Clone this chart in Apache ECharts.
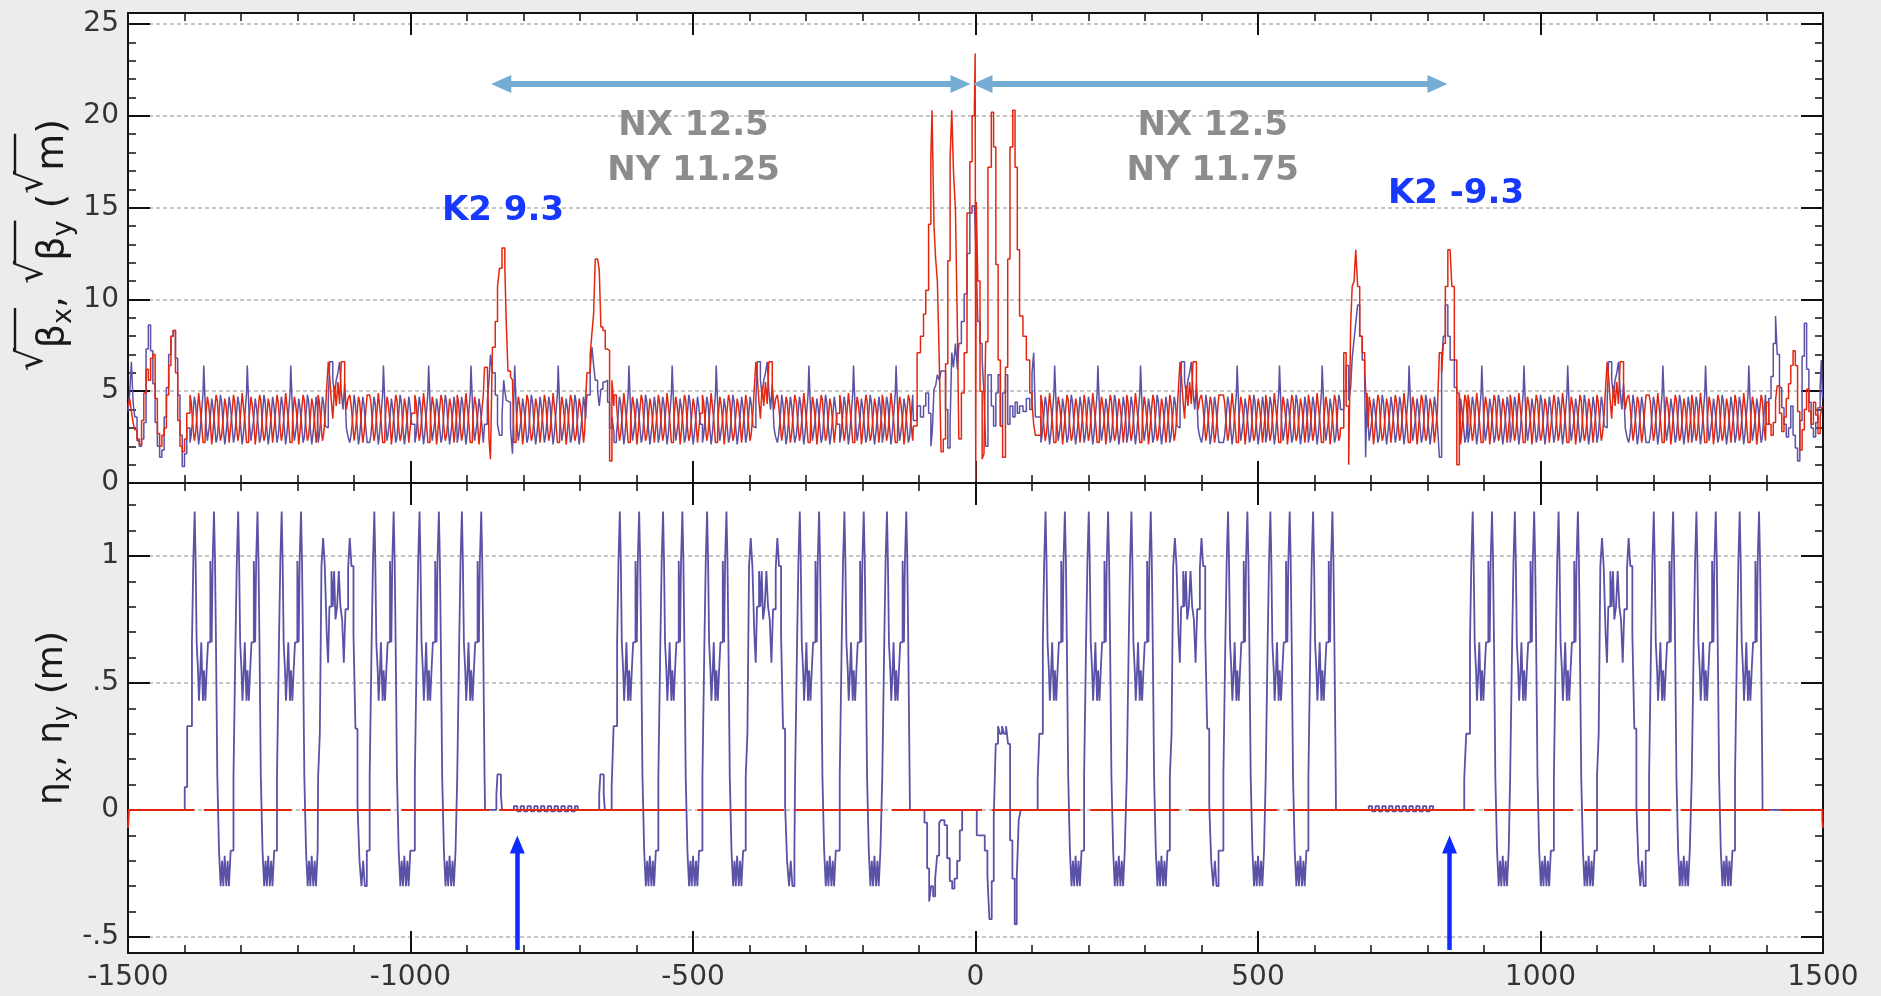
<!DOCTYPE html>
<html>
<head>
<meta charset="utf-8">
<script src="https://cdn.jsdelivr.net/npm/echarts/dist/echarts.min.js"></script>
<style>
  html, body { margin: 0; padding: 0; background: #ececec; }
  #chart { width: 1881px; height: 996px; }
</style>
</head>
<body>
<div id="chart"></div>
<script>
// ---------------------------------------------------------------------------
// Lattice functions along the ring, s in metres (-1500 … 1500)
// ---------------------------------------------------------------------------

// Dispersion η_x over one regular arc period (offset from period start, m)
const etaCellNormalOffsets = [0, 3.5, 5.9, 8.3, 10, 11.8, 14.2, 15.9, 18.3, 20, 21.3, 23, 24.8, 27.2, 29.5, 31.9,
  36, 38.4, 40.1, 42.5, 44.3, 46, 48.4, 51.4, 54.3, 56.7, 59, 61.4, 64.3, 66.7, 69, 72];
const etaCellNormalValues = [0.13, 0.66, 0.98, 1.175, 0.98, 0.66, 0.55, 0.43, 0.55, 0.66, 0.55, 0.43, 0.55, 0.43, 0.55, 0.66,
  0.98, 0.66, 0.98, 1.175, 0.98, 0.66, 0.13, -0.16, -0.30, -0.20, -0.30, -0.18, -0.30, -0.20, -0.30, -0.16];

// Dispersion η_x over the longer mid-arc period
const etaCellMidOffsets = [0, 3, 5.9, 8.9, 11.8, 15.3, 17.7, 20, 23.6, 26, 28.3, 30.7, 33.6, 36.6, 39.5, 42.5,
  45.5, 48.4, 53.1, 56, 59, 62.6, 66.1, 69.7, 73.2, 76.7, 79.7, 82.6, 86.2];
const etaCellMidValues = [0.13, 0.30, 0.96, 1.07, 0.96, 0.69, 0.58, 0.80, 0.94, 0.80, 0.94, 0.75, 0.80, 0.94, 0.80, 0.75,
  0.58, 0.79, 0.95, 1.07, 0.96, 0.69, 0.32, 0.02, -0.20, -0.30, -0.20, -0.30, -0.16];

// √β over one regular arc period (five FODO cells, element-edge steps)
const betaCellNormalOffsets = [0, 2.2, 5, 7.7, 9.9, 12.7, 15.4, 17.6, 20.4, 23.1, 24.4, 26.8, 28.1,
  30.8, 33, 35.8, 38.5, 40.7, 43.5, 46.2, 48.4, 51.2, 53.9, 56.1, 58.9, 61.6, 63.8, 66.6, 69.3, 71.5, 74.3];
const betaXCellNormal = [2.2, 2.6, 3.6, 4.7, 4.3, 3.1, 2.1, 2.7, 3.8, 4.9, 6.4, 4.4, 3.3,
  2.3, 2.8, 3.5, 4.6, 4.1, 3.2, 2.2, 2.5, 3.7, 4.8, 4.4, 3.0, 2.1, 2.7, 3.6, 4.7, 4.2, 3.2];
const betaYCellNormal = [4.8, 4.4, 3.2, 2.3, 2.7, 3.8, 4.9, 4.2, 3.3, 2.2, 2.2, 2.6, 3.7,
  4.7, 4.3, 3.4, 2.1, 2.8, 3.9, 4.8, 4.5, 3.1, 2.3, 2.6, 3.6, 4.6, 4.2, 3.3, 2.2, 2.9, 3.8];

// √β over the mid-arc period (the raised hump)
const betaCellMidOffsets = [0, 2.2, 5, 7.7, 9.9, 12.7, 15.4, 18, 20.5, 23, 26, 29, 32, 35, 38, 41, 44, 47, 50, 53,
  56, 58.2, 61, 63.7, 65.9, 68.7, 71.4, 73.6, 76.4, 79.1, 81.3, 84.1, 86.8];
const betaXCellMid = [2.2, 2.6, 3.6, 4.7, 4.3, 3.1, 3.0, 4.5, 6.6, 6.6, 5.6, 4.8, 5.6, 6.0, 6.6, 5.0, 4.0, 5.4, 3.0, 2.5,
  2.2, 2.6, 3.5, 4.8, 4.3, 3.2, 2.1, 2.6, 3.7, 4.7, 4.2, 3.1, 2.2];
const betaYCellMid = [4.8, 4.4, 3.2, 2.3, 2.7, 3.8, 5.3, 6.6, 5.8, 4.6, 3.5, 5.3, 4.2, 5.5, 4.3, 6.6, 6.6, 5.2, 4.0, 4.6,
  4.8, 4.3, 3.3, 2.3, 2.8, 3.7, 4.7, 4.4, 3.2, 2.2, 2.7, 3.8, 4.8];

// Start of each arc period: [s, 'N' regular | 'M' mid-arc]
const arcCellStarts = [
  [-1390.3, 'N'], [-1313.3, 'N'], [-1236.3, 'N'], [-1163.5, 'M'], [-1072.3, 'N'], [-992.3, 'N'], [-917.3, 'N'],
  [-637.8, 'N'], [-561.3, 'N'], [-483.3, 'N'], [-406.7, 'M'], [-319.3, 'N'], [-240.3, 'N'], [-165, 'N'],
  [115.7, 'N'], [192.2, 'N'], [267.7, 'N'], [344, 'M'], [438.7, 'N'], [513.6, 'N'], [589.2, 'N'],
  [871.7, 'N'], [946.3, 'N'], [1023.7, 'N'], [1100, 'M'], [1192.2, 'N'], [1267.7, 'N'], [1344.3, 'N']
];
// Periods of the two long straights (β only)
const straightCellStarts = [[-840, 'N'], [-763, 'N'], [-686, 'N'], [666, 'N'], [743, 'N'], [820, 'N']];

// η_x where the lattice is not periodic: [s, η]
const etaLeftEnd = [[-1500, 0], [-1399.6, 0.09], [-1395.3, 0.33]];
const etaStraightLeft = [[-868, 0], [-848, 0.06], [-846, 0.14], [-840, 0.06], [-838, 0], [-817, 0.015], [-811, -0.005],
  [-805, 0.015], [-799, -0.005], [-793, 0.015], [-787, -0.005], [-781, 0.015], [-775, -0.005], [-769, 0.015],
  [-763, -0.005], [-757, 0.015], [-751, -0.005], [-745, 0.015], [-739, -0.005], [-733, 0.015], [-727, -0.005],
  [-721, 0.015], [-715, -0.005], [-709, 0.015], [-704, 0],
  [-666, 0.06], [-664, 0.14], [-658, 0.06], [-656, 0], [-644, 0.09], [-640.5, 0.33]];
const etaInteraction = [[-116, 0], [-90.3, -0.05], [-85.6, -0.23], [-82, -0.36], [-78.6, -0.30], [-75, -0.34],
  [-71.4, -0.27], [-67.9, -0.18], [-64.3, -0.05], [-60.8, -0.04], [-54.9, -0.06], [-50.2, -0.19], [-45.5, -0.28],
  [-41.3, -0.31], [-37.2, -0.27], [-32.5, -0.20], [-27.8, -0.08], [-23.6, 0], [2.2, -0.10], [16.4, -0.16],
  [21.1, -0.26], [24.6, -0.43], [28.7, -0.28], [32.3, -0.03], [35.8, 0.26], [39.9, 0.33], [43.4, 0.30], [47, 0.33],
  [50.5, 0.30], [54.1, 0.33], [57.6, 0.26], [61.2, -0.12], [65.3, -0.27], [69.4, -0.45], [73, -0.27], [76.5, -0.04],
  [80, 0], [110, 0.12], [113, 0.3]];
const etaStraightRight = [[638, 0], [696, 0.015], [702, -0.005], [708, 0.015], [714, -0.005], [720, 0.015],
  [726, -0.005], [732, 0.015], [738, -0.005], [744, 0.015], [750, -0.005], [756, 0.015], [762, -0.005], [768, 0.015],
  [774, -0.005], [780, 0.015], [786, -0.005], [792, 0.015], [798, -0.005], [804, 0.015], [810, 0],
  [865, 0.12], [868.5, 0.3]];
const etaRightEnd = [[1393, 0], [1500, 0]];

// η_y: zero where drawn, with short breaks; small step at both ends
const etaYLeftEnd = [[-1500, -0.07], [-1499.3, -0.04]];
const etaYRuns = [[-1498.6, -1399], [-1366, -1229], [-1192, -1054], [-1016, -878], [-843, -533], [-492, -358],
  [-320, -180], [-148, -6], [29, 168], [203, 343], [378, 517], [552, 865], [900, 1039], [1077, 1214],
  [1248, 1388], [1423, 1499]];
const etaYRightEnd = [[1499, -0.04], [1500, -0.07]];

// √β where the lattice is not periodic: [s, √βx, √βy]
const betaLeftEnd = [[-1500, 3.9, 4.2], [-1497, 4.9, 4.6], [-1494, 6.6, 3.9], [-1491, 4.4, 3.3], [-1488, 3.6, 2.9],
  [-1484, 2.3, 2.4], [-1480, 2.0, 2.1], [-1476, 2.4, 3.4], [-1472, 3.3, 4.9], [-1468, 7.3, 6.2], [-1464, 8.6, 5.6],
  [-1460, 7.2, 6.8], [-1456, 5.4, 7.0], [-1452, 3.3, 4.6], [-1448, 2.0, 2.7], [-1444, 1.4, 2.0], [-1440, 1.8, 2.6],
  [-1436, 3.6, 3.0], [-1432, 5.2, 4.8], [-1428, 7.0, 6.4], [-1424, 8.0, 8.0], [-1420, 8.3, 8.3], [-1416, 6.8, 6.0],
  [-1412, 4.8, 3.4], [-1408, 2.6, 2.0], [-1404, 0.9, 1.7], [-1400, 1.6, 2.4], [-1396, 3.0, 3.8]];
const betaK2LeftA = [[-869, 3.2, 6.3], [-864, 4.5, 6.4], [-861, 5.6, 2.4], [-858.5, 7.0, 1.3], [-855, 6.0, 7.4],
  [-850, 4.8, 8.8], [-846, 3.2, 10.7], [-842.5, 2.6, 11.7], [-838, 3.7, 12.8], [-835, 5.6, 12.8], [-833, 5.0, 11.7],
  [-830.5, 4.5, 8.7], [-827.5, 4.4, 6.1], [-823, 3.0, 5.8], [-819.5, 1.6, 5.6]];
const betaK2LeftB = [[-690, 3.5, 4.5], [-687.7, 4.8, 6.0], [-682, 6.2, 7.0], [-678.8, 7.4, 8.2], [-675.9, 6.4, 9.2],
  [-673, 5.6, 12.2], [-668.8, 5.0, 12.3], [-665.9, 4.2, 11.6], [-663, 5.1, 8.5], [-659.4, 5.5, 8.3],
  [-655.3, 5.6, 7.3], [-651.2, 4.4, 7.2], [-647.6, 3.0, 1.2], [-643.5, 3.6, 5.6], [-640, 2.8, 4.2]];
const betaInteraction = [[-110, 3.4, 3.1], [-103.3, 4.2, 7.1], [-97.4, 3.6, 8.0], [-92, 4.2, 9.2], [-88, 4.9, 10.5],
  [-83, 3.8, 14.1], [-79, 2.0, 17.7], [-77, 2.6, 20.3], [-75.5, 3.5, 17.6], [-73.5, 5.1, 14.0], [-70.5, 5.3, 12.2],
  [-67.5, 5.9, 11.0], [-64, 5.6, 6.5], [-61, 6.1, 1.7], [-57, 6.1, 2.4], [-53, 4.0, 6.5], [-49, 1.9, 12.1],
  [-45, 3.2, 17.6], [-42, 7.1, 20.3], [-39, 6.3, 17.0], [-35.5, 7.6, 14.9], [-32, 6.2, 8.3], [-29.5, 7.6, 2.4],
  [-25, 8.8, 4.9], [-20, 10.3, 7.1], [-15, 12.5, 14.7], [-10, 14.7, 17.5], [-6, 15.1, 20.0], [-2, 15.0, 20.3],
  [-0.6, 14.0, 23.4], [0.4, 13.0, 0.1], [1.4, 11.9, 15.3], [4, 8.8, 11.0], [8, 7.6, 5.0], [11.8, 6.7, 1.3],
  [15, 4.9, 1.6], [18, 2.0, 7.7], [22, 5.9, 17.2], [28, 4.2, 20.2], [32, 3.1, 18.3], [36, 4.9, 11.9], [40, 5.9, 6.7],
  [44, 3.1, 3.1], [48, 4.9, 1.4], [53, 5.9, 6.3], [57, 3.2, 12.2], [61, 4.2, 18.3], [66, 3.6, 20.3], [70, 4.4, 17.2],
  [74, 3.8, 12.7], [78, 4.2, 9.1], [84, 3.9, 8.0], [90, 4.6, 6.7], [96, 4.0, 4.9], [100, 6.0, 4.4], [103, 7.1, 3.2],
  [106, 3.6, 2.6]];
const betaK2RightA = [[646, 4.0, 3.0], [651.8, 5.0, 7.1], [656, 6.4, 4.2], [660.5, 4.5, 1.0], [664, 5.2, 8.6],
  [666.7, 6.8, 10.7], [670, 7.8, 11.0], [673, 8.7, 12.7], [676.4, 9.7, 10.7], [680, 8.0, 8.0], [684.4, 6.7, 7.1],
  [688.8, 5.6, 6.2], [690.5, 1.4, 5.1], [693, 4.9, 4.4], [695, 3.2, 3.0]];
const betaK2RightB = [[818, 3.0, 4.4], [821, 1.4, 7.1], [825, 6.5, 6.0], [828, 8.0, 7.6], [831.6, 9.7, 10.7],
  [836, 8.0, 12.7], [840, 6.7, 12.7], [843.1, 6.7, 10.7], [847.5, 5.2, 6.7], [851.9, 4.9, 1.0], [856.3, 4.0, 4.9],
  [858, 3.0, 3.6]];
const betaRightEnd = [[1400, 3.2, 4.4], [1404, 4.6, 3.2], [1408, 5.8, 2.6], [1412, 7.6, 3.3], [1416, 9.1, 4.5],
  [1419, 7.0, 5.3], [1423, 5.2, 3.8], [1427, 4.1, 2.8], [1431, 3.2, 3.6], [1435, 2.5, 4.6], [1439, 3.0, 5.4],
  [1443, 4.2, 6.4], [1447, 2.6, 7.2], [1451, 1.9, 6.4], [1455, 1.2, 3.9], [1459, 3.4, 1.8], [1463, 6.9, 2.9],
  [1467, 8.7, 4.0], [1471, 6.2, 5.1], [1475, 4.4, 3.9], [1479, 3.0, 3.2], [1483, 2.5, 4.4], [1487, 3.3, 3.7],
  [1491, 4.1, 2.7], [1495, 5.3, 3.6], [1497, 6.7, 4.0], [1499, 4.6, 4.2], [1500, 4.6, 4.2]];

// Annotations
const tuneLabels = [
  { s: -499, lines: ['NX 12.5', 'NY 11.25'] },
  { s: 420, lines: ['NX 12.5', 'NY 11.75'] }
];
const sextupoleLabels = [{ text: 'K2 9.3', x: 503, y: 211 }, { text: 'K2 -9.3', x: 1456, y: 194 }];
const tuneArrowLevel = 21.73;
const tuneArrows = [[-839.4, -26.6], [12.4, 817.6]];
const markerArrows = [-811, 839];

// ---------------------------------------------------------------------------
// Assemble step-plot point lists
// ---------------------------------------------------------------------------
const etaShapes = {
  N: { len: 77, r: etaCellNormalOffsets, v: [etaCellNormalValues] },
  M: { len: 92, r: etaCellMidOffsets, v: [etaCellMidValues] }
};
const betaShapes = {
  N: { len: 77, r: betaCellNormalOffsets, v: [betaXCellNormal, betaYCellNormal] },
  M: { len: 92, r: betaCellMidOffsets, v: [betaXCellMid, betaYCellMid] }
};

function buildSteps(cells, shapes, col, patches) {
  let pts = [];
  cells.forEach(([start, kind], i) => {
    const shape = shapes[kind];
    const next = i + 1 < cells.length ? cells[i + 1][0] : Infinity;
    const end = Math.min(start + shape.len, next);
    shape.r.forEach((r, j) => {
      if (start + r < end) pts.push([start + r, shape.v[col][j]]);
    });
  });
  patches.forEach(p => {
    pts = pts.filter(q => q[0] < p.from || q[0] > p.to);
    p.pts.forEach(q => pts.push([q[0], q[col + 1]]));
  });
  pts.sort((a, b) => a[0] - b[0]);
  return pts;
}

const etaPatches = [
  { from: -1500, to: -1390, pts: etaLeftEnd },
  { from: -868, to: -637, pts: etaStraightLeft },
  { from: -116, to: 116, pts: etaInteraction },
  { from: 638, to: 872, pts: etaStraightRight },
  { from: 1393, to: 1500, pts: etaRightEnd }
];
const betaPatches = [
  { from: -1500, to: -1391, pts: betaLeftEnd },
  { from: -870, to: -818, pts: betaK2LeftA },
  { from: -690, to: -640, pts: betaK2LeftB },
  { from: -110, to: 110, pts: betaInteraction },
  { from: 646, to: 695, pts: betaK2RightA },
  { from: 818, to: 858, pts: betaK2RightB },
  { from: 1400, to: 1500, pts: betaRightEnd }
];

const betaCells = arcCellStarts.concat(straightCellStarts).sort((a, b) => a[0] - b[0]);
const etaXData = buildSteps(arcCellStarts, etaShapes, 0, etaPatches);
const betaXData = buildSteps(betaCells, betaShapes, 0, betaPatches);
const betaYData = buildSteps(betaCells, betaShapes, 1, betaPatches);

const etaYData = etaYLeftEnd.slice();
etaYRuns.forEach(([a, b], i) => {
  etaYData.push([a, 0], [b, 0]);
  if (i < etaYRuns.length - 1) etaYData.push([(b + etaYRuns[i + 1][0]) / 2, null]);
});
etaYRightEnd.forEach(p => etaYData.push(p));

// ---------------------------------------------------------------------------
// Chart
// ---------------------------------------------------------------------------
const INK = '#111';
const BLUE = '#5a52a6';
const RED = '#e4260f';
const LABEL_FONT = 'DejaVu Sans';

function frameAxis(extra) {
  return Object.assign({
    type: 'value',
    axisLine: { show: true, onZero: false, lineStyle: { color: INK, width: 2 } },
    axisTick: { show: true, inside: true, length: 22, lineStyle: { color: INK, width: 2 } },
    minorTick: { show: true, splitNumber: 5, length: 8, lineStyle: { color: INK, width: 1.5 } },
    axisLabel: { show: false },
    splitLine: { show: false }
  }, extra);
}
const tickLabel = (formatter, margin) => ({
  show: true, fontSize: 28, fontFamily: LABEL_FONT, color: '#333', margin, formatter
});
const gridDash = { show: true, showMinLine: false, showMaxLine: false,
  lineStyle: { color: '#b4b4b4', width: 1.5, type: [4, 3] } };

const sLabel = v => (Math.abs(v / 500 - Math.round(v / 500)) < 1e-6 ? String(Math.round(v)) : '');
const betaLabel = v => (Math.abs(v / 5 - Math.round(v / 5)) < 1e-6 ? String(Math.round(v)) : '');
const etaLabel = v => {
  const r = Math.round(v * 2) / 2;
  if (Math.abs(v - r) > 1e-6) return '';
  return r === 0 ? '0' : String(r).replace(/^(-?)0\./, '$1.');
};

const sRange = { min: -1500, max: 1500, interval: 500 };

const option = {
  backgroundColor: '#ececec',
  animation: false,
  grid: [
    { left: 128, right: 58, top: 13, height: 470, show: true, backgroundColor: '#fff', borderWidth: 0, outerBoundsMode: 'none' },
    { left: 128, right: 58, top: 483, height: 470, show: true, backgroundColor: '#fff', borderWidth: 0, outerBoundsMode: 'none' }
  ],
  xAxis: [
    frameAxis(Object.assign({ gridIndex: 0, position: 'bottom' }, sRange)),
    frameAxis(Object.assign({ gridIndex: 0, position: 'top' }, sRange)),
    frameAxis(Object.assign({ gridIndex: 1, position: 'top' }, sRange)),
    frameAxis(Object.assign({ gridIndex: 1, position: 'bottom', axisLabel: tickLabel(sLabel, 11) }, sRange))
  ],
  yAxis: [
    frameAxis({ gridIndex: 0, position: 'left', min: 0, max: 25.6, interval: 5,
      axisLabel: tickLabel(betaLabel, 9), splitLine: gridDash }),
    frameAxis({ gridIndex: 0, position: 'right', min: 0, max: 25.6, interval: 5 }),
    frameAxis({ gridIndex: 1, position: 'left', min: -0.563, max: 1.287, splitNumber: 4,
      axisLabel: tickLabel(etaLabel, 9), splitLine: gridDash }),
    frameAxis({ gridIndex: 1, position: 'right', min: -0.563, max: 1.287, splitNumber: 4 })
  ],
  series: [
    {
      name: '√βx', type: 'line', xAxisIndex: 0, yAxisIndex: 0, data: betaXData, step: 'end',
      showSymbol: false, symbol: 'none', lineStyle: { color: BLUE, width: 1.5 }, silent: true
    },
    {
      name: '√βy', type: 'line', xAxisIndex: 0, yAxisIndex: 0, data: betaYData, step: 'end',
      showSymbol: false, symbol: 'none', lineStyle: { color: RED, width: 1.5 }, silent: true,
      markLine: {
        silent: true, symbol: ['triangle', 'triangle'], symbolSize: [18, 20],
        label: { show: false }, lineStyle: { color: '#74acd4', width: 6, type: 'solid' },
        emphasis: { disabled: true },
        data: tuneArrows.map(([a, b]) => [{ coord: [a, tuneArrowLevel] }, { coord: [b, tuneArrowLevel] }])
      }
    },
    {
      name: 'ηx', type: 'line', xAxisIndex: 3, yAxisIndex: 2, data: etaXData, step: 'end',
      showSymbol: false, symbol: 'none', lineStyle: { color: BLUE, width: 1.8 }, silent: true
    },
    {
      name: 'ηy', type: 'line', xAxisIndex: 3, yAxisIndex: 2, data: etaYData, step: 'end',
      connectNulls: false, showSymbol: false, symbol: 'none', lineStyle: { color: RED, width: 2 }, silent: true,
      markLine: {
        silent: true, symbol: ['none', 'triangle'], symbolSize: [15, 18],
        label: { show: false }, lineStyle: { color: '#0d2cff', width: 4.5, type: 'solid' },
        emphasis: { disabled: true },
        data: markerArrows.map(s => [{ coord: [s, -0.551] }, { coord: [s, -0.136] }])
      }
    }
  ]
};

const chart = echarts.init(document.getElementById('chart'));
chart.setOption(option);

// ---------------------------------------------------------------------------
// Axis titles (rotated, with radical bars and subscripts) and text notes
// ---------------------------------------------------------------------------
const measureCtx = document.createElement('canvas').getContext('2d');
const TITLE_INK = '#1a1a1a';

function axisTitle(pieces, cx, cy, sz) {
  const items = [];
  let x = 0, barStart = 0;
  pieces.forEach(p => {
    const size = p.sub ? sz.sub : (p.rad ? sz.rad : sz.main);
    measureCtx.font = size + 'px "' + LABEL_FONT + '"';
    const w = measureCtx.measureText(p.t).width;
    items.push({
      type: 'text', x, y: p.rad ? sz.radBottom : (p.sub ? sz.subDrop : 0),
      style: { text: p.t, fontSize: size, fontFamily: LABEL_FONT, fill: TITLE_INK,
        align: 'left', verticalAlign: p.rad ? 'bottom' : 'middle' }
    });
    if (p.rad) barStart = x + w - 3;
    x += w;
    if (p.barEnd) {
      items.push({ type: 'rect', shape: { x: barStart, y: sz.barY - 1.2, width: x - barStart, height: 2.4 },
        style: { fill: TITLE_INK } });
    }
  });
  const half = x / 2;
  items.forEach(it => {
    if (it.type === 'rect') { it.shape.x -= half; } else { it.x -= half; }
  });
  return { type: 'group', x: cx, y: cy, rotation: Math.PI / 2, children: items, silent: true };
}

const betaTitle = [
  { t: '√', rad: true }, { t: 'β' }, { t: 'x', sub: true, barEnd: true }, { t: ', ' },
  { t: '√', rad: true }, { t: 'β' }, { t: 'y', sub: true, barEnd: true }, { t: ' (' },
  { t: '√', rad: true }, { t: 'm', barEnd: true }, { t: ')' }
];
const etaTitle = [{ t: 'η' }, { t: 'x', sub: true }, { t: ', ' }, { t: 'η' }, { t: 'y', sub: true }, { t: ' (m)' }];

const notes = [];
tuneLabels.forEach(lbl => {
  const px = chart.convertToPixel({ xAxisIndex: 0 }, lbl.s);
  lbl.lines.forEach((line, k) => notes.push({
    type: 'text', x: px, y: 126 + k * 45, silent: true,
    style: { text: line, fontSize: 34, fontWeight: 'bold', fontFamily: LABEL_FONT, fill: '#8c8c8c',
      align: 'center', verticalAlign: 'middle' }
  }));
});
sextupoleLabels.forEach(l => notes.push({
  type: 'text', x: l.x, y: l.y, silent: true,
  style: { text: l.text, fontSize: 34, fontWeight: 'bold', fontFamily: LABEL_FONT, fill: '#1638ff',
    align: 'center', verticalAlign: 'middle' }
}));

chart.setOption({
  graphic: [
    axisTitle(betaTitle, 53, 245, { main: 38, sub: 27, rad: 36, subDrop: 11, radBottom: -2, barY: -38 }),
    axisTitle(etaTitle, 53, 718, { main: 36, sub: 26, rad: 30, subDrop: 11, radBottom: -4, barY: -37 })
  ].concat(notes)
});
</script>
</body>
</html>
